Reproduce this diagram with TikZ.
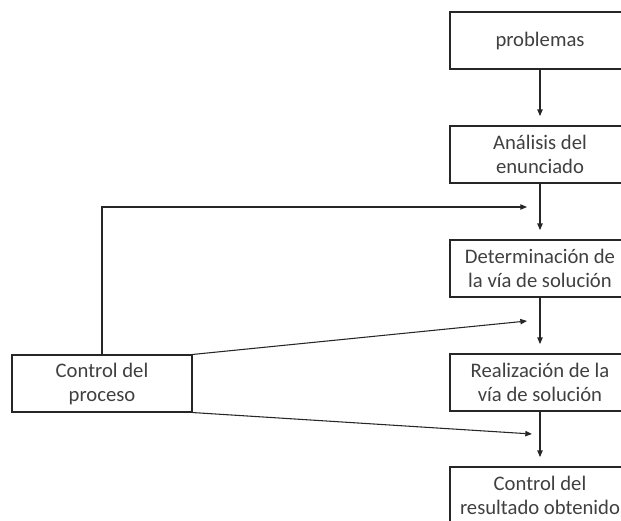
\documentclass[tikz,border=0pt]{standalone}
\usepackage{fontspec}
\setmainfont{Carlito}
\usetikzlibrary{arrows.meta}
\begin{document}
\begin{tikzpicture}[x=0.75pt,y=-0.75pt,
  box/.style={draw=black!85,line width=0.8pt,minimum width=135pt,minimum height=42.75pt,
    inner sep=0pt,align=center,text=black!75,font=\fontsize{15.5}{18}\selectfont},
  conn/.style={draw=black!85,line width=0.8pt,-{Triangle[length=5pt,width=4pt]}},
  link/.style={draw=black!85,line width=0.8pt}]
\useasboundingbox (0,0) rectangle (621,521);
\clip (0,0) rectangle (621,521);
\node[box] (p) at (540,40.5) {problemas};
\node[box] (a) at (540,154.5) {Análisis del\\enunciado};
\node[box] (d) at (540,268.5) {Determinación de\\la vía de solución};
\node[box] (r) at (540,382.5) {Realización de la\\vía de solución};
\node[box] (c) at (540,495.5) {Control del\\resultado obtenido};
\node[box] (cp) at (102,383.5) {Control del\\proceso};
\draw[conn,shorten >=7pt] (p.south) -- (a.north);
\draw[conn,shorten >=7pt] (a.south) -- (d.north);
\draw[conn,shorten >=7pt] (d.south) -- (r.north);
\draw[conn,shorten >=7pt] (r.south) -- (c.north);
\coordinate (t1) at (527,207);
\coordinate (t2) at (527,321);
\coordinate (t3) at (532,434);
\draw[conn] (cp.north) |- (t1);
\draw[conn] (cp.north east) -- (t2);
\draw[conn] (cp.south east) -- (t3);
\end{tikzpicture}
\end{document}
